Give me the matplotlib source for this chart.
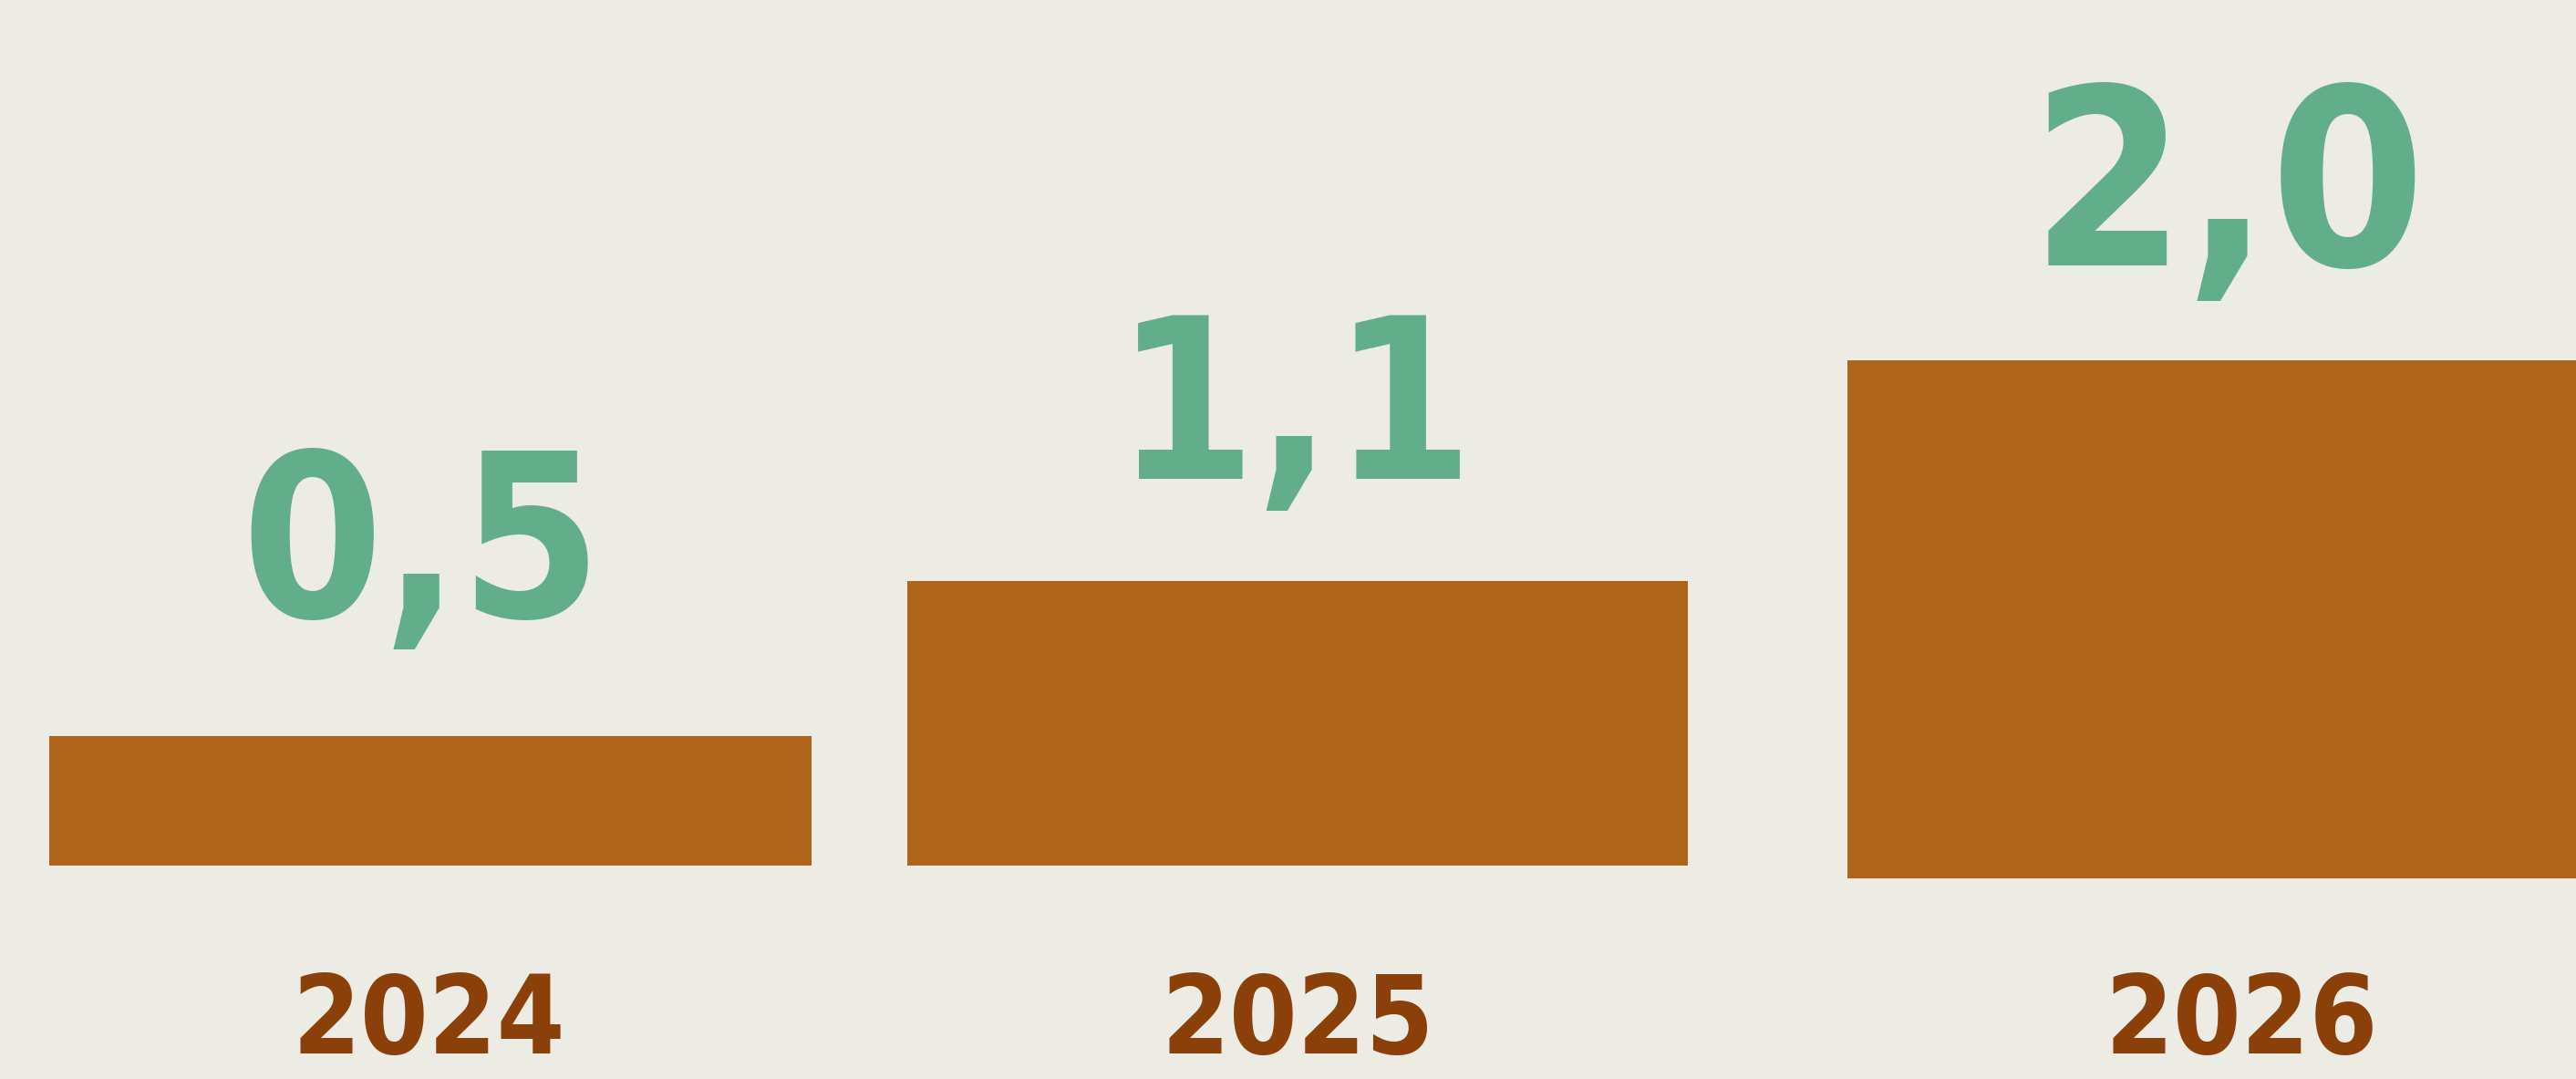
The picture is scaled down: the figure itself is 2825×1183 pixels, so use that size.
import matplotlib
matplotlib.use("Agg")
import matplotlib.pyplot as plt
from matplotlib import font_manager as fm

years = ["2024", "2025", "2026"]
values = [0.5, 1.1, 2.0]
value_labels = ["0,5", "1,1", "2,0"]

BG = "#ECECE4"
BAR = "#B0641A"
GREEN = "#62AE8B"
BROWN = "#8B400A"

# the reference digits are narrower than plain DejaVu Sans Bold,
# so use the condensed bold file when the system has it
cond = [f.fname for f in fm.fontManager.ttflist
        if "dejavusanscondensed-bold." in f.fname.lower().replace("_", "")]
if cond:
  def fp(size):
    return fm.FontProperties(fname=cond[0], size=size)
  SHRINK = 1.0
else:
  def fp(size):
    return fm.FontProperties(family="DejaVu Sans", weight="bold", size=size)
  SHRINK = 0.93

W, H, DPI = 2825, 1183, 100
PX = 284.0          # pixels per unit
BASE = 949          # pixel row of the zero line (from top)

def ypx(p):
  return (BASE - p) / PX

fig = plt.figure(figsize=(W / DPI, H / DPI), dpi=DPI, facecolor=BG)
ax = fig.add_axes([0, 0, 1, 1])
ax.set_facecolor(BG)
ax.set_xlim(0, W)
ax.set_ylim(ypx(H), ypx(0))
ax.axis("off")

# bar layout in pixel x units
lefts = [54, 995, 2026]
widths = [836, 856, 860]
bottoms = [0, 0, ypx(963)]

ax.bar(lefts, values, width=widths, bottom=bottoms, align="edge",
       color=BAR, linewidth=0)

label_x = [462, 1420, 2444]
label_base = [676, 525, 291]
label_size = [179, 178, 196]
for i, lab in enumerate(value_labels):
  ax.text(label_x[i], ypx(label_base[i]), lab, ha="center", va="baseline",
          fontproperties=fp(label_size[i] * SHRINK), color=GREEN)

year_x = [470, 1423, 2458]
for x, yr in zip(year_x, years):
  ax.text(x, ypx(1155), yr, ha="center", va="baseline",
          fontproperties=fp(86 * SHRINK), color=BROWN)

fig.savefig("out.png", dpi=DPI, facecolor=BG)
